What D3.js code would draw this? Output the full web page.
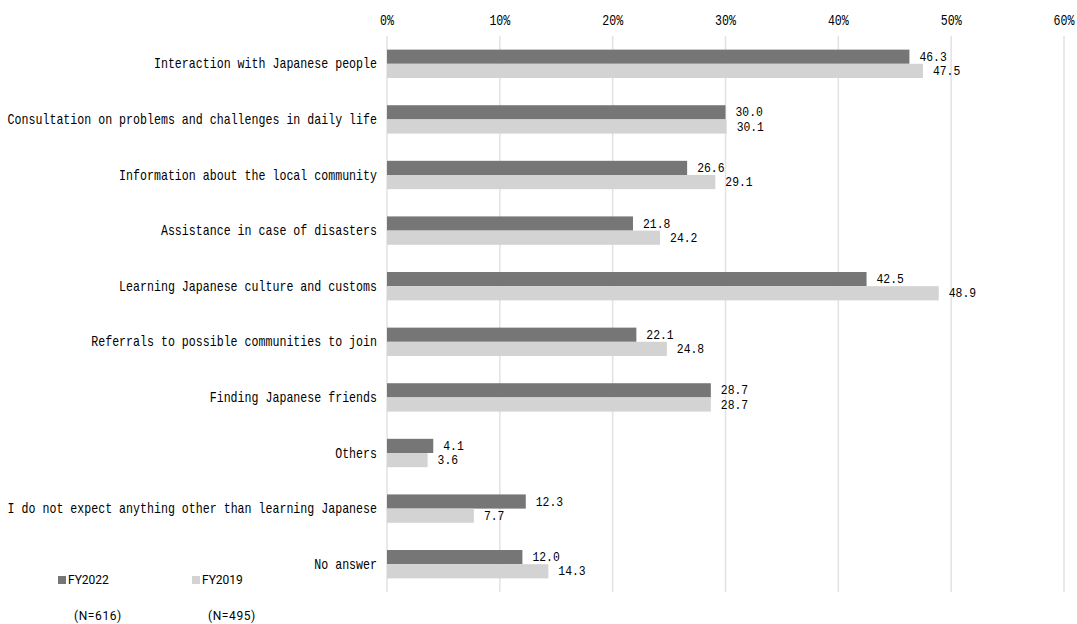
<!DOCTYPE html>
<html>
<head>
<meta charset="utf-8">
<script src="https://cdn.jsdelivr.net/npm/d3@7"></script>
<style>
  body { margin: 0; background: #fff; }
  svg text { font-family: "Liberation Mono", "DejaVu Sans Mono", monospace; fill: #000; }
</style>
</head>
<body>
<svg id="chart" width="1077" height="624"></svg>
<script>
const categories = [
  'Interaction with Japanese people',
  'Consultation on problems and challenges in daily life',
  'Information about the local community',
  'Assistance in case of disasters',
  'Learning Japanese culture and customs',
  'Referrals to possible communities to join',
  'Finding Japanese friends',
  'Others',
  'I do not expect anything other than learning Japanese',
  'No answer'
];
const fy2022 = [46.3, 30.0, 26.6, 21.8, 42.5, 22.1, 28.7, 4.1, 12.3, 12.0];
const fy2019 = [47.5, 30.1, 29.1, 24.2, 48.9, 24.8, 28.7, 3.6, 7.7, 14.3];
const seriesNames = ['FY2022', 'FY2019'];
const seriesN = ['(N=616)', '(N=495)'];
const ticks = [0, 10, 20, 30, 40, 50, 60];

const colors = ['#767676', '#d3d3d3'];

const svg = d3.select('#chart');
const plot = { left: 387, right: 1064, top: 36, bottom: 592 };

const x = d3.scaleLinear().domain([0, 60]).range([plot.left, plot.right]);
const y = d3.scaleBand().domain(categories).range([plot.top, plot.bottom]).paddingInner(0.49).paddingOuter(0.245);
const sub = d3.scaleBand().domain(seriesNames).range([0, y.bandwidth()]);

// the source font is a narrow, tall gothic: fake it with a squeezed mono
function squeezed(sel, fx, fy, fs, sq) {
  return sel
    .attr('transform', (d, i) => `translate(${fx(d, i)},${fy(d, i)}) scale(${sq},1)`)
    .attr('dominant-baseline', 'middle')
    .style('font-size', fs + 'px');
}

// gridlines
svg.append('g')
  .selectAll('line')
  .data(ticks)
  .join('line')
  .attr('x1', d => x(d)).attr('x2', d => x(d))
  .attr('y1', plot.top).attr('y2', plot.bottom)
  .attr('stroke', '#e2e2e2')
  .attr('stroke-width', 1.5);

// top tick labels
svg.append('g')
  .selectAll('text')
  .data(ticks)
  .join('text')
  .call(squeezed, d => x(d), () => 21, 14, 0.83)
  .attr('text-anchor', 'middle')
  .text(d => `${d}%`);

// category labels
svg.append('g')
  .selectAll('text')
  .data(categories)
  .join('text')
  .call(squeezed, () => 377, d => y(d) + y.bandwidth() / 2 + 1, 14, 0.83)
  .attr('text-anchor', 'end')
  .text(d => d);

const rows = categories.map((c, i) => ({ c, vals: [fy2022[i], fy2019[i]] }));

const groups = svg.append('g')
  .selectAll('g')
  .data(rows)
  .join('g')
  .attr('transform', d => `translate(0,${y(d.c)})`);

groups.selectAll('rect')
  .data(d => d.vals.map((v, j) => ({ v, s: seriesNames[j], j })))
  .join('rect')
  .attr('x', x(0))
  .attr('y', d => sub(d.s))
  .attr('width', d => x(d.v) - x(0))
  .attr('height', sub.bandwidth())
  .attr('fill', d => colors[d.j]);

groups.selectAll('text')
  .data(d => d.vals.map((v, j) => ({ v, s: seriesNames[j], j })))
  .join('text')
  .call(squeezed, d => x(d.v) + 10, d => sub(d.s) + sub.bandwidth() / 2 + 1, 12, 0.95)
  .text(d => d.v.toFixed(1));

// legend
const legendX = [58, 192];
const legend = svg.append('g')
  .selectAll('g')
  .data(seriesNames)
  .join('g')
  .attr('transform', (d, i) => `translate(${legendX[i]},580)`);

legend.append('rect')
  .attr('x', 0).attr('y', -4)
  .attr('width', 8).attr('height', 8)
  .attr('fill', (d, i) => colors[i]);

legend.append('text')
  .attr('x', 10)
  .attr('y', 1)
  .attr('dominant-baseline', 'middle')
  .style('font-family', 'Roboto, "Liberation Sans", sans-serif')
  .style('font-size', '12px')
  .text(d => d);

svg.append('g')
  .selectAll('text')
  .data(seriesN)
  .join('text')
  .attr('x', (d, i) => legendX[i] + 16)
  .attr('y', 617)
  .attr('dominant-baseline', 'middle')
  .style('font-family', 'Roboto, "Liberation Sans", sans-serif')
  .style('font-size', '12px')
  .style('letter-spacing', '0.6px')
  .text(d => d);
</script>
</body>
</html>
